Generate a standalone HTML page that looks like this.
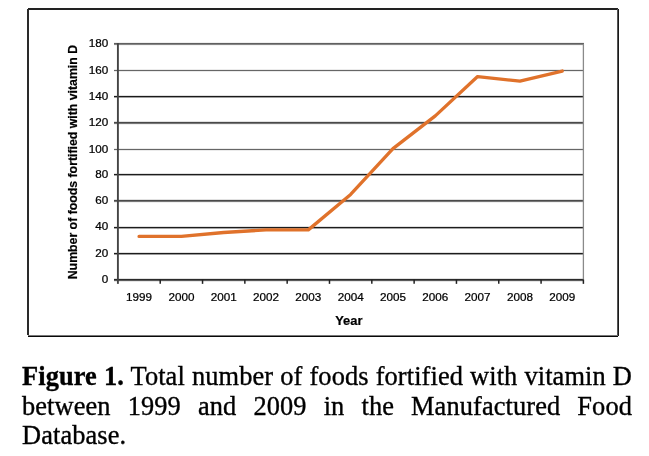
<!DOCTYPE html>
<html><head><meta charset="utf-8"><style>
html,body{margin:0;padding:0;background:#fff;}
body{width:649px;height:456px;position:relative;overflow:hidden;}
svg{position:absolute;left:0;top:0;}
.tk{font-family:"Liberation Sans",Arial,sans-serif;font-size:11.8px;fill:#000;stroke:#000;stroke-width:0.25px;}
.ti{font-family:"Liberation Sans",Arial,sans-serif;font-size:12.3px;font-weight:bold;fill:#000;stroke:#000;stroke-width:0.2px;}
#cap{position:absolute;left:22px;top:362px;width:610px;font-family:"Liberation Serif","Times New Roman",serif;font-size:26.4px;line-height:29.6px;letter-spacing:0.1px;color:#000;-webkit-text-stroke:0.35px #000;}
#cap div{text-align:justify;text-align-last:justify;white-space:nowrap;}
#cap div.last{text-align-last:left;}
</style></head><body>
<svg width="649" height="456" viewBox="0 0 649 456">
<rect x="28" y="8" width="590" height="2" fill="#222" shape-rendering="crispEdges"/>
<rect x="27" y="9" width="2" height="326" fill="#2a2a2a" shape-rendering="crispEdges"/>
<rect x="617" y="9" width="1" height="326" fill="#555" shape-rendering="crispEdges"/>
<rect x="618" y="9" width="1" height="327" fill="#1a1a1a" shape-rendering="crispEdges"/>
<rect x="28" y="335" width="590" height="1" fill="#787878" shape-rendering="crispEdges"/>
<rect x="28" y="336" width="590" height="1" fill="#080808" shape-rendering="crispEdges"/>
<rect x="114" y="278" width="469.9" height="1" fill="rgb(225,225,225)" shape-rendering="crispEdges"/>
<rect x="114" y="279" width="469.9" height="1" fill="rgb(42,42,42)" shape-rendering="crispEdges"/>
<rect x="114" y="280" width="469.9" height="1" fill="rgb(90,90,90)" shape-rendering="crispEdges"/>
<rect x="114" y="281" width="469.9" height="1" fill="rgb(230,230,230)" shape-rendering="crispEdges"/>
<text transform="translate(108.2,282.81) scale(0.99,1)" text-anchor="end" class="tk">0</text>
<rect x="114" y="252" width="469.9" height="1" fill="rgb(225,225,225)" shape-rendering="crispEdges"/>
<rect x="114" y="253" width="469.9" height="1" fill="rgb(28,28,28)" shape-rendering="crispEdges"/>
<rect x="114" y="254" width="469.9" height="1" fill="rgb(155,155,155)" shape-rendering="crispEdges"/>
<text transform="translate(108.2,256.62) scale(0.99,1)" text-anchor="end" class="tk">20</text>
<rect x="114" y="226" width="469.9" height="1" fill="rgb(225,225,225)" shape-rendering="crispEdges"/>
<rect x="114" y="227" width="469.9" height="1" fill="rgb(28,28,28)" shape-rendering="crispEdges"/>
<rect x="114" y="228" width="469.9" height="1" fill="rgb(165,165,165)" shape-rendering="crispEdges"/>
<text transform="translate(108.2,230.39) scale(0.99,1)" text-anchor="end" class="tk">40</text>
<rect x="114" y="199" width="469.9" height="1" fill="rgb(225,225,225)" shape-rendering="crispEdges"/>
<rect x="114" y="200" width="469.9" height="1" fill="rgb(74,74,74)" shape-rendering="crispEdges"/>
<rect x="114" y="201" width="469.9" height="1" fill="rgb(119,119,119)" shape-rendering="crispEdges"/>
<rect x="114" y="202" width="469.9" height="1" fill="rgb(240,240,240)" shape-rendering="crispEdges"/>
<text transform="translate(108.2,203.81) scale(0.99,1)" text-anchor="end" class="tk">60</text>
<rect x="114" y="173" width="469.9" height="1" fill="rgb(225,225,225)" shape-rendering="crispEdges"/>
<rect x="114" y="174" width="469.9" height="1" fill="rgb(28,28,28)" shape-rendering="crispEdges"/>
<rect x="114" y="175" width="469.9" height="1" fill="rgb(165,165,165)" shape-rendering="crispEdges"/>
<text transform="translate(108.2,177.62) scale(0.99,1)" text-anchor="end" class="tk">80</text>
<rect x="114" y="148" width="469.9" height="1" fill="rgb(235,235,235)" shape-rendering="crispEdges"/>
<rect x="114" y="149" width="469.9" height="1" fill="rgb(102,102,102)" shape-rendering="crispEdges"/>
<rect x="114" y="150" width="469.9" height="1" fill="rgb(235,235,235)" shape-rendering="crispEdges"/>
<text transform="translate(108.2,152.55) scale(0.99,1)" text-anchor="end" class="tk">100</text>
<rect x="114" y="121" width="469.9" height="1" fill="rgb(225,225,225)" shape-rendering="crispEdges"/>
<rect x="114" y="122" width="469.9" height="1" fill="rgb(74,74,74)" shape-rendering="crispEdges"/>
<rect x="114" y="123" width="469.9" height="1" fill="rgb(119,119,119)" shape-rendering="crispEdges"/>
<rect x="114" y="124" width="469.9" height="1" fill="rgb(240,240,240)" shape-rendering="crispEdges"/>
<text transform="translate(108.2,125.81) scale(0.99,1)" text-anchor="end" class="tk">120</text>
<rect x="114" y="95" width="469.9" height="1" fill="rgb(225,225,225)" shape-rendering="crispEdges"/>
<rect x="114" y="96" width="469.9" height="1" fill="rgb(26,26,26)" shape-rendering="crispEdges"/>
<rect x="114" y="97" width="469.9" height="1" fill="rgb(160,160,160)" shape-rendering="crispEdges"/>
<text transform="translate(108.2,99.60) scale(0.99,1)" text-anchor="end" class="tk">140</text>
<rect x="114" y="69" width="469.9" height="1" fill="rgb(235,235,235)" shape-rendering="crispEdges"/>
<rect x="114" y="70" width="469.9" height="1" fill="rgb(102,102,102)" shape-rendering="crispEdges"/>
<rect x="114" y="71" width="469.9" height="1" fill="rgb(235,235,235)" shape-rendering="crispEdges"/>
<text transform="translate(108.2,73.55) scale(0.99,1)" text-anchor="end" class="tk">160</text>
<rect x="114" y="42" width="469.9" height="1" fill="rgb(240,240,240)" shape-rendering="crispEdges"/>
<rect x="114" y="43" width="469.9" height="1" fill="rgb(96,96,96)" shape-rendering="crispEdges"/>
<rect x="114" y="44" width="469.9" height="1" fill="rgb(135,135,135)" shape-rendering="crispEdges"/>
<rect x="114" y="45" width="469.9" height="1" fill="rgb(245,245,245)" shape-rendering="crispEdges"/>
<text transform="translate(108.2,46.95) scale(0.99,1)" text-anchor="end" class="tk">180</text>
<line x1="583.40" y1="43.80" x2="583.40" y2="279.66" stroke="#8a8a8a" stroke-width="1.3"/>
<line x1="117.90" y1="43.10" x2="117.90" y2="283.86" stroke="#444" stroke-width="1.9"/>
<line x1="160.22" y1="279.66" x2="160.22" y2="283.86" stroke="#222" stroke-width="1.5"/>
<line x1="202.54" y1="279.66" x2="202.54" y2="283.86" stroke="#222" stroke-width="1.5"/>
<line x1="244.85" y1="279.66" x2="244.85" y2="283.86" stroke="#222" stroke-width="1.5"/>
<line x1="287.17" y1="279.66" x2="287.17" y2="283.86" stroke="#222" stroke-width="1.5"/>
<line x1="329.49" y1="279.66" x2="329.49" y2="283.86" stroke="#222" stroke-width="1.5"/>
<line x1="371.81" y1="279.66" x2="371.81" y2="283.86" stroke="#222" stroke-width="1.5"/>
<line x1="414.13" y1="279.66" x2="414.13" y2="283.86" stroke="#222" stroke-width="1.5"/>
<line x1="456.45" y1="279.66" x2="456.45" y2="283.86" stroke="#222" stroke-width="1.5"/>
<line x1="498.76" y1="279.66" x2="498.76" y2="283.86" stroke="#222" stroke-width="1.5"/>
<line x1="541.08" y1="279.66" x2="541.08" y2="283.86" stroke="#222" stroke-width="1.5"/>
<line x1="583.40" y1="279.66" x2="583.40" y2="283.86" stroke="#222" stroke-width="1.5"/>
<text transform="translate(139.06,301) scale(0.99,1)" text-anchor="middle" class="tk">1999</text>
<text transform="translate(181.38,301) scale(0.99,1)" text-anchor="middle" class="tk">2000</text>
<text transform="translate(223.70,301) scale(0.99,1)" text-anchor="middle" class="tk">2001</text>
<text transform="translate(266.01,301) scale(0.99,1)" text-anchor="middle" class="tk">2002</text>
<text transform="translate(308.33,301) scale(0.99,1)" text-anchor="middle" class="tk">2003</text>
<text transform="translate(350.65,301) scale(0.99,1)" text-anchor="middle" class="tk">2004</text>
<text transform="translate(392.97,301) scale(0.99,1)" text-anchor="middle" class="tk">2005</text>
<text transform="translate(435.29,301) scale(0.99,1)" text-anchor="middle" class="tk">2006</text>
<text transform="translate(477.60,301) scale(0.99,1)" text-anchor="middle" class="tk">2007</text>
<text transform="translate(519.92,301) scale(0.99,1)" text-anchor="middle" class="tk">2008</text>
<text transform="translate(562.24,301) scale(0.99,1)" text-anchor="middle" class="tk">2009</text>
<polyline points="139.06,236.42 181.38,236.42 223.70,232.49 266.01,229.86 308.33,229.86 350.65,194.48 392.97,148.62 435.29,115.86 477.60,76.55 519.92,81.13 562.24,71.04" fill="none" stroke="#E0722B" stroke-width="3.3" stroke-linejoin="round" stroke-linecap="round"/>
<text transform="translate(348.8,324.8) scale(1.05,1)" text-anchor="middle" class="ti">Year</text>
<text transform="translate(76.8,162.1) rotate(-90)" text-anchor="middle" class="ti">Number of foods fortified with vitamin D</text>
</svg>
<div id="cap">
<div><b>Figure 1.</b> Total number of foods fortified with vitamin D</div>
<div>between 1999 and 2009 in the Manufactured Food</div>
<div class="last">Database.</div>
</div>
</body></html>
